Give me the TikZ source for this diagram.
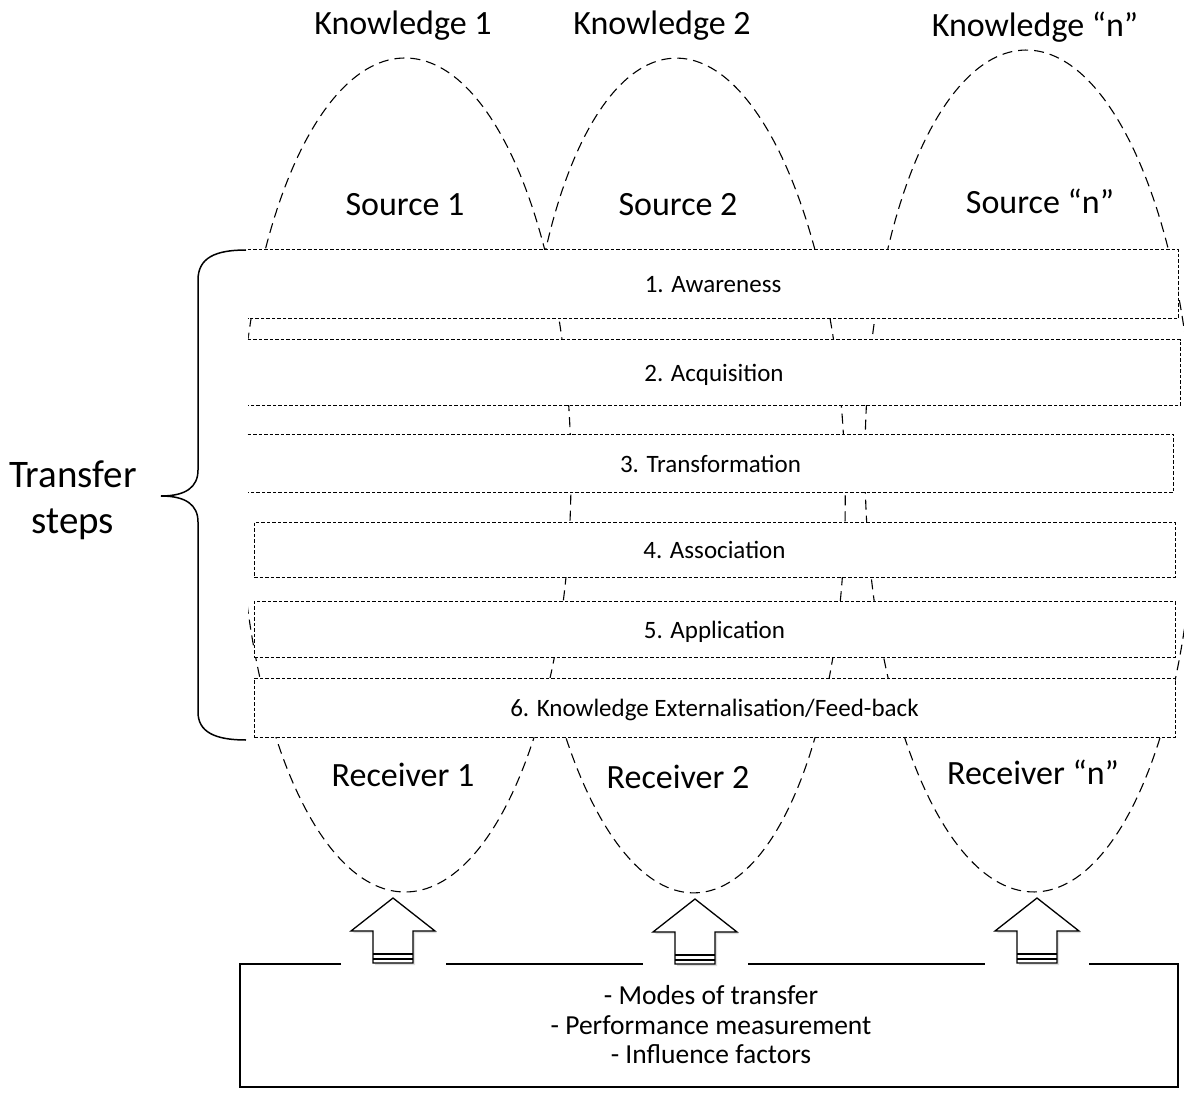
\documentclass[tikz,border=0pt]{standalone}
\usepackage{fontspec}
\setmainfont{Carlito}
\usetikzlibrary{shadows}

\begin{document}
\begin{tikzpicture}[x=1pt,y=-1pt,
    lobe/.style={draw,fill=white,line width=1.1pt,dash pattern=on 10pt off 6pt},
    stepline/.style={line width=0.9pt,dash pattern=on 3.5pt off 2pt},
    stepbox/.style={stepline,fill=white,inner sep=0pt,text height=20pt,text depth=2pt,font=\fontsize{25}{28}\selectfont},
    bigtext/.style={anchor=base,font=\fontsize{34}{40}\selectfont},
    blockarrow/.style={draw,fill=white,line width=1.3pt,drop shadow={opacity=0.25,shadow xshift=2pt,shadow yshift=-2pt}}]
\useasboundingbox (0,0) rectangle (1184,1094);
\clip (0,0) rectangle (1184,1094);

    %
    \draw[lobe,rotate around={0.6:(1030,471)}] (1030,471) ellipse [x radius=165pt,y radius=421pt];
    \draw[lobe,rotate around={1.4:(685,475.5)}] (685,475.5) ellipse [x radius=160pt,y radius=417.5pt];
    \draw[lobe] (405,475) ellipse [x radius=166pt,y radius=417pt];

    %
    \fill[white] (246,250) .. controls (215,250) and (198,258) .. (198,280) -- (198,470)
        .. controls (198,487) and (186,496) .. (161,496) .. controls (186,496) and (198,505) .. (198,522)
        -- (198,712) .. controls (198,732) and (215,740) .. (246,740) -- (248,740) -- (248,250) -- cycle;
    \draw[line width=1.5pt] (246,250) .. controls (215,250) and (198,258) .. (198,280) -- (198,470)
        .. controls (198,487) and (186,496) .. (161,496) .. controls (186,496) and (198,505) .. (198,522)
        -- (198,712) .. controls (198,732) and (215,740) .. (246,740);
    \node[align=center,font=\fontsize{39}{46}\selectfont] (steps) at (73,500) {Transfer\\steps};

    %
    \node[stepbox,minimum width=930pt,minimum height=68pt] (aware) at (713,284) {1. Awareness};
    \draw[stepline] (aware.north west) -- (aware.north east) -- (aware.south east) -- (aware.south west);
    \node[stepbox,minimum width=932pt,minimum height=65pt] (acqui) at (714,372.5) {2. Acquisition};
    \draw[stepline] (acqui.north west) -- (acqui.north east) -- (acqui.south east) -- (acqui.south west);
    \node[stepbox,minimum width=925pt,minimum height=57pt] (transf) at (710.5,463.5) {3. Transformation};
    \draw[stepline] (transf.north west) -- (transf.north east) -- (transf.south east) -- (transf.south west);
    \node[stepbox,draw,minimum width=921pt,minimum height=55pt] (assoc) at (714.5,549.5) {4. Association};
    \node[stepbox,draw,minimum width=921pt,minimum height=56pt] (appl) at (714.5,629) {5. Application};
    \node[stepbox,draw,minimum width=921pt,minimum height=59pt] (extern) at (714.5,707.5) {6. Knowledge Externalisation/Feed-back};

    %
    \node[bigtext] (know1) at (403,35) {Knowledge 1};
    \node[bigtext] (know2) at (662,35) {Knowledge 2};
    \node[bigtext] (known) at (1035,37) {Knowledge “n”};
    \node[bigtext] (src1) at (405,216) {Source 1};
    \node[bigtext] (src2) at (678,216) {Source 2};
    \node[bigtext] (srcn) at (1040,214) {Source “n”};
    \node[bigtext] (rec1) at (403,786) {Receiver 1};
    \node[bigtext] (rec2) at (678,788) {Receiver 2};
    \node[bigtext] (recn) at (1033,784) {Receiver “n”};

    %
    \path[blockarrow] (393,898) -- (435,931) -- (413,931) -- (413,963) -- (373,963) -- (373,931) -- (351,931) -- cycle;
    \draw[line width=1.3pt] (373,954) -- (413,954) (373,959) -- (413,959);
    \path[blockarrow] (695,899) -- (737,932) -- (715,932) -- (715,964) -- (675,964) -- (675,932) -- (653,932) -- cycle;
    \draw[line width=1.3pt] (675,955) -- (715,955) (675,960) -- (715,960);
    \path[blockarrow] (1037,898) -- (1079,931) -- (1057,931) -- (1057,963) -- (1017,963) -- (1017,931) -- (995,931) -- cycle;
    \draw[line width=1.3pt] (1017,954) -- (1057,954) (1017,959) -- (1057,959);

    %
    \draw[line width=1.6pt] (341,964) -- (240,964) -- (240,1087) -- (1178,1087) -- (1178,964) -- (1089,964);
    \draw[line width=1.6pt] (446,964) -- (643,964);
    \draw[line width=1.6pt] (748,964) -- (985,964);
    \node[align=center,font=\fontsize{27.5}{29.5}\selectfont] (factors) at (711,1025) {- Modes of transfer\\- Performance measurement\\- Influence factors};
\end{tikzpicture}
\end{document}
